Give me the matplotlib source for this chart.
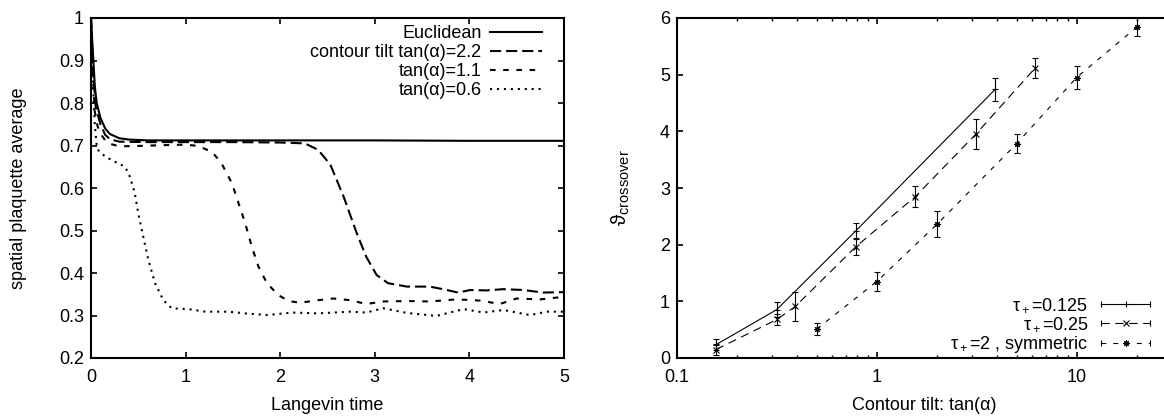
import matplotlib
matplotlib.use('Agg')
import matplotlib.pyplot as plt
from matplotlib.lines import Line2D
from matplotlib.legend_handler import HandlerBase

plt.rcParams['font.family'] = ['Liberation Sans', 'DejaVu Sans']
plt.rcParams['mathtext.fontset'] = 'custom'
plt.rcParams['mathtext.rm'] = 'Liberation Sans'
plt.rcParams['mathtext.it'] = 'Liberation Sans:italic'
plt.rcParams['font.size'] = 13
plt.rcParams['lines.scale_dashes'] = False

# ---- left panel: plaquette vs Langevin time ----
t_eucl = [0, 0.02, 0.04, 0.06, 0.1, 0.15, 0.2, 0.3, 0.4, 0.6, 1, 2, 3, 4, 5]
p_eucl = [1.0, 0.92, 0.84, 0.80, 0.765, 0.74, 0.727, 0.717, 0.714, 0.712,
          0.712, 0.712, 0.712, 0.711, 0.711]

t_22 = [0, 0.02, 0.05, 0.1, 0.15, 0.2, 0.3, 0.6, 1.0, 1.5, 2.0, 2.26, 2.40,
        2.53, 2.67, 2.81, 2.91, 3.02, 3.14, 3.34, 3.58, 3.72, 3.88, 4.01,
        4.18, 4.36, 4.57, 4.78, 5.0]
p_22 = [1.0, 0.88, 0.79, 0.75, 0.725, 0.715, 0.709, 0.708, 0.708, 0.708,
        0.707, 0.705, 0.69, 0.655, 0.58, 0.493, 0.438, 0.395, 0.376, 0.368,
        0.368, 0.362, 0.354, 0.36, 0.359, 0.362, 0.36, 0.354, 0.355]

t_11 = [0, 0.02, 0.04, 0.07, 0.1, 0.15, 0.2, 0.3, 0.5, 0.8, 1.0, 1.13, 1.28,
        1.38, 1.49, 1.56, 1.63, 1.70, 1.77, 1.86, 1.98, 2.09, 2.21, 2.40,
        2.56, 2.74, 2.91, 3.09, 3.34, 3.58, 3.87, 4.12, 4.32, 4.50, 4.75, 5.0]
p_11 = [1.0, 0.86, 0.78, 0.745, 0.728, 0.712, 0.704, 0.698, 0.699, 0.701,
        0.702, 0.699, 0.685, 0.658, 0.611, 0.564, 0.517, 0.462, 0.415, 0.376,
        0.348, 0.334, 0.330, 0.336, 0.340, 0.336, 0.327, 0.333, 0.334, 0.333,
        0.338, 0.335, 0.327, 0.340, 0.338, 0.344]

t_06 = [0, 0.02, 0.04, 0.06, 0.08, 0.15, 0.25, 0.36, 0.41, 0.46, 0.50, 0.553,
        0.606, 0.677, 0.765, 0.853, 1.03, 1.21, 1.45, 1.63, 1.87, 2.12, 2.40,
        2.74, 2.91, 3.09, 3.34, 3.65, 3.94, 4.15, 4.36, 4.64, 4.82, 5.0]
p_06 = [1.0, 0.85, 0.75, 0.70, 0.688, 0.674, 0.662, 0.650, 0.627, 0.591,
        0.540, 0.485, 0.431, 0.376, 0.336, 0.317, 0.315, 0.309, 0.309, 0.305,
        0.301, 0.307, 0.305, 0.309, 0.307, 0.317, 0.306, 0.299, 0.315, 0.307,
        0.313, 0.301, 0.309, 0.309]

# ---- right panel: crossover vs contour tilt ----
tilt_a = [0.157, 0.316, 0.783, 3.91]
theta_a = [0.236, 0.855, 2.24, 4.74]
err_a = [0.1, 0.14, 0.14, 0.21]

tilt_b = [0.157, 0.316, 0.391, 0.783, 1.56, 3.13, 6.21]
theta_b = [0.15, 0.68, 0.91, 1.96, 2.85, 3.95, 5.12]
err_b = [0.1, 0.1, 0.25, 0.15, 0.18, 0.27, 0.17]

tilt_c = [0.5, 1.0, 2.0, 5.0, 10.0, 20.0]
theta_c = [0.51, 1.35, 2.36, 3.78, 4.95, 5.84]
err_c = [0.1, 0.16, 0.23, 0.17, 0.2, 0.16]


class GnuplotErrHandler(HandlerBase):
    """legend sample like gnuplot: |---marker---|"""
    def create_artists(self, legend, orig_handle, xdescent, ydescent,
                       width, height, fontsize, trans):
        y = height / 2 - ydescent
        x0, x1 = -xdescent, width - xdescent
        bar = Line2D([x0, x1], [y, y])
        bar.update_from(orig_handle)
        bar.set_marker('None')
        caps = Line2D([x0, x1], [y, y], linestyle='none', marker='|',
                      markersize=5, markeredgewidth=0.8, color='black')
        mid = Line2D([(x0 + x1) / 2], [y], linestyle='none',
                     marker=orig_handle.get_marker(),
                     markersize=orig_handle.get_markersize(),
                     markeredgewidth=0.8, color='black')
        for a in (bar, caps, mid):
            a.set_transform(trans)
        return [bar, caps, mid]


fig = plt.figure(figsize=(11.64, 4.16), dpi=100)
ax1 = fig.add_axes([91 / 1164, 1 - 358 / 416, 473 / 1164, 340 / 416])
ax2 = fig.add_axes([677 / 1164, 1 - 358 / 416, 495 / 1164, 340 / 416])

lw = 1.5
ax1.plot(t_eucl, p_eucl, color='black', lw=lw, label='Euclidean')
ax1.plot(t_22, p_22, color='black', lw=lw, dashes=(8, 3.6),
         dash_capstyle='butt', label='contour tilt tan(α)=2.2')
ax1.plot(t_11, p_11, color='black', lw=lw, dashes=(4, 5.5),
         dash_capstyle='butt', label='tan(α)=1.1')
ax1.plot(t_06, p_06, color='black', lw=lw, dashes=(1.5, 3.5),
         dash_capstyle='butt', label='tan(α)=0.6')

ax1.set_xlim(0, 5)
ax1.set_ylim(0.2, 1.0)
ax1.set_xticks([0, 1, 2, 3, 4, 5])
ax1.set_xticklabels(['0', '1', '2', '3', '4', '5'])
ax1.set_yticks([0.2, 0.3, 0.4, 0.5, 0.6, 0.7, 0.8, 0.9, 1.0])
ax1.set_yticklabels(['0.2', '0.3', '0.4', '0.5', '0.6', '0.7', '0.8', '0.9', '1'])
ax1.set_xlabel('Langevin time')
ax1.set_ylabel('spatial plaquette average')
ax1.xaxis.set_label_coords(0.5, -0.115)
ax1.yaxis.set_label_coords(-0.135, 0.5)
ax1.legend(loc='upper right', bbox_to_anchor=(0.9535, 0.978), frameon=False,
           markerfirst=False, handlelength=2.9, handletextpad=0.45,
           labelspacing=0.1, borderpad=0, borderaxespad=0)

elw = 0.8
ax2.errorbar(tilt_a, theta_a, yerr=err_a, color='black', lw=elw,
             marker='+', markersize=5, markeredgewidth=0.8,
             capsize=2.2, capthick=0.8, elinewidth=0.8, label='τ$_+$=0.125')
ax2.errorbar(tilt_b, theta_b, yerr=err_b, color='black', lw=elw,
             dashes=(6, 4), marker='x', markersize=4, markeredgewidth=0.8,
             capsize=2.2, capthick=0.8, elinewidth=0.8, label='τ$_+$=0.25')
ax2.errorbar(tilt_c, theta_c, yerr=err_c, color='black', lw=elw,
             dashes=(3.5, 5), marker=(8, 2, 0), markersize=4.5,
             markeredgewidth=0.8, capsize=2.2, capthick=0.8, elinewidth=0.8,
             label='τ$_+$=2 , symmetric')

ax2.set_xscale('log')
ax2.set_xlim(0.1, 30)
ax2.set_ylim(0, 6)
ax2.set_xticks([0.1, 1, 10])
ax2.set_xticklabels(['0.1', '1', '10'])
ax2.set_yticks([0, 1, 2, 3, 4, 5, 6])
ax2.set_yticklabels(['0', '1', '2', '3', '4', '5', '6'])
ax2.set_xlabel('Contour tilt: tan(α)')
ax2.set_ylabel('ϑ$_{\\mathrm{crossover}}$', fontsize=15)
ax2.xaxis.set_label_coords(0.5, -0.115)
ax2.yaxis.set_label_coords(-0.09, 0.5)

handles, labels = ax2.get_legend_handles_labels()
lines = [h[0] for h in handles]
ax2.legend(lines, labels, loc='lower right', bbox_to_anchor=(0.9556, 0.008),
           frameon=False, markerfirst=False, handlelength=2.7,
           handletextpad=0.7, labelspacing=0.05, borderpad=0, borderaxespad=0,
           handler_map={Line2D: GnuplotErrHandler()})

for ax in (ax1, ax2):
    for s in ax.spines.values():
        s.set_linewidth(1.5)
    ax.tick_params(which='major', direction='in', length=4.5, width=1.2,
                   top=True, right=True, pad=8)
    ax.tick_params(which='minor', direction='in', length=2.5, width=1.0,
                   top=True, right=True)
    ax.tick_params(axis='y', pad=5)

fig.savefig('out.png', dpi=100)
